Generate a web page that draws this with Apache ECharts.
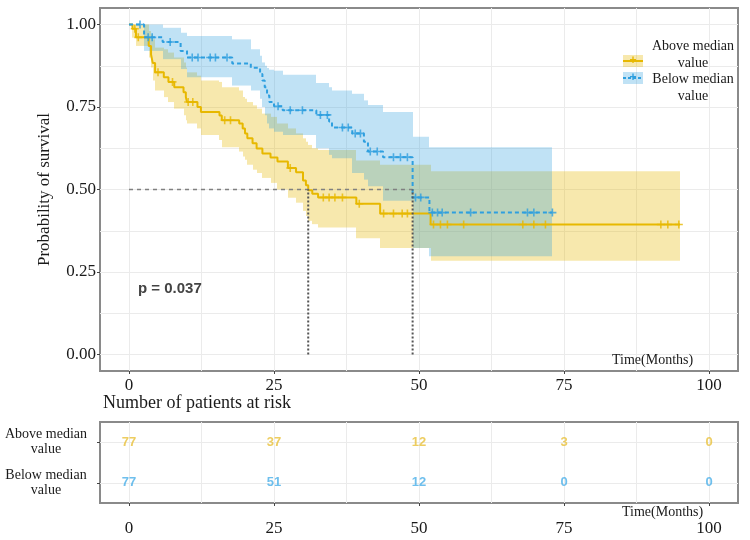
<!DOCTYPE html>
<html>
<head>
<meta charset="utf-8">
<script src="https://cdn.jsdelivr.net/npm/echarts@6/dist/echarts.min.js"></script>
<style>
  html, body { margin: 0; padding: 0; background: #fff; }
  #chart { width: 750px; height: 540px; }
</style>
</head>
<body>
<div id="chart"></div>
<script>
// ---- data ----
// Above median value (yellow, solid)
var aboveTime  = [0, 0.6, 1.2, 3.4, 3.8, 4.1, 4.5, 6.0, 6.8, 7.8, 9.4, 9.8, 10.0, 11.8, 12.4, 15.6, 16.0, 19.0, 19.6, 20.0, 20.4, 21.3, 22.0, 23.0, 24.4, 25.6, 27.4, 28.8, 30.0, 30.5, 30.9, 31.6, 32.6, 39.2, 43.3, 52.0];
var aboveSurv  = [1, 0.987, 0.961, 0.935, 0.909, 0.883, 0.855, 0.84, 0.826, 0.81, 0.795, 0.78, 0.765, 0.75, 0.735, 0.724, 0.71, 0.70, 0.685, 0.67, 0.655, 0.64, 0.624, 0.609, 0.597, 0.585, 0.565, 0.552, 0.527, 0.513, 0.498, 0.487, 0.476, 0.457, 0.427, 0.394];
var aboveUpper = [1, 1, 1, 0.98, 0.97, 0.955, 0.93, 0.925, 0.915, 0.90, 0.885, 0.87, 0.855, 0.845, 0.83, 0.826, 0.81, 0.80, 0.78, 0.775, 0.765, 0.755, 0.745, 0.73, 0.72, 0.70, 0.685, 0.67, 0.655, 0.645, 0.635, 0.625, 0.62, 0.588, 0.575, 0.555];
var aboveLower = [1, 0.96, 0.935, 0.90, 0.87, 0.83, 0.80, 0.78, 0.765, 0.745, 0.725, 0.71, 0.70, 0.685, 0.665, 0.65, 0.628, 0.615, 0.60, 0.59, 0.575, 0.56, 0.55, 0.535, 0.52, 0.50, 0.475, 0.46, 0.435, 0.42, 0.405, 0.395, 0.385, 0.352, 0.323, 0.284];
var aboveEnd = 95;
var aboveCensor = [1.0, 1.6, 5.0, 7.5, 10.2, 11.0, 16.5, 17.5, 27.8, 33.5, 34.5, 35.5, 36.8, 39.7, 43.9, 45.6, 47.1, 48.0, 52.5, 53.7, 54.9, 57.7, 67.9, 69.8, 71.8, 91.7, 92.9, 94.8];

// Below median value (blue, dashed)
var belowTime  = [0, 2.6, 5.8, 8.9, 10.0, 17.8, 21.0, 22.6, 23.0, 23.4, 23.8, 24.2, 25.0, 26.5, 32.3, 34.5, 35.0, 38.5, 40.5, 41.2, 43.8, 48.9, 51.8];
var belowSurv  = [1, 0.961, 0.947, 0.92, 0.90, 0.882, 0.869, 0.85, 0.83, 0.81, 0.785, 0.765, 0.752, 0.74, 0.726, 0.706, 0.688, 0.67, 0.645, 0.615, 0.598, 0.476, 0.43];
var belowUpper = [1, 1, 0.99, 0.975, 0.965, 0.955, 0.925, 0.905, 0.885, 0.875, 0.868, 0.863, 0.86, 0.848, 0.823, 0.81, 0.80, 0.79, 0.77, 0.756, 0.735, 0.66, 0.628];
var belowLower = [1, 0.92, 0.895, 0.865, 0.84, 0.815, 0.80, 0.775, 0.75, 0.725, 0.70, 0.685, 0.675, 0.665, 0.625, 0.605, 0.595, 0.55, 0.53, 0.51, 0.466, 0.323, 0.298];
var belowEnd = 73;
var belowCensor = [1.9, 3.3, 4.0, 7.1, 10.9, 11.9, 14.0, 14.9, 16.9, 25.7, 27.8, 29.9, 33.0, 34.2, 36.8, 37.8, 39.0, 39.9, 41.6, 42.8, 45.6, 46.8, 48.0, 49.4, 50.3, 52.3, 53.2, 54.0, 58.9, 68.7, 69.8, 73.0];

// median survival times (above, below)
var medians = [30.9, 48.9];

// number at risk
var riskTimes  = [0, 25, 50, 75, 100];
var riskAbove  = [77, 37, 12, 3, 0];
var riskBelow  = [77, 51, 12, 0, 0];
var riskGroups = ['Above median\nvalue', 'Below median\nvalue'];

// axes
var xTickVals = [0, 25, 50, 75, 100];
var xGridVals = [0, 12.5, 25, 37.5, 50, 62.5, 75, 87.5, 100];
var yTickVals = [0, 0.25, 0.5, 0.75, 1];
var yGridVals = [0, 0.125, 0.25, 0.375, 0.5, 0.625, 0.75, 0.875, 1];

var yellow = '#E7B800';
var blue = '#2E9FDF';
var serif = 'Liberation Serif';
var plusPath = 'path://M4,0H6V4H10V6H6V10H4V6H0V4H4Z';

function stepData(times, surv, end) {
    var d = [];
    for (var i = 0; i < times.length; i++) d.push([times[i], surv[i]]);
    d.push([end, surv[surv.length - 1]]);
    return d;
}
function bandData(times, lower, upper, end) {
    var d = [];
    for (var i = 0; i < times.length; i++) {
        var t1 = i < times.length - 1 ? times[i + 1] : end;
        d.push([times[i], t1, lower[i], upper[i]]);
    }
    return d;
}
function survAt(times, surv, t) {
    var s = surv[0];
    for (var i = 0; i < times.length; i++) { if (times[i] <= t) s = surv[i]; }
    return s;
}
function censorData(censor, times, surv) {
    return censor.map(function (t) { return [t, survAt(times, surv, t)]; });
}
function bandRender(fill) {
    return function (params, api) {
        var p0 = api.coord([api.value(0), api.value(3)]);
        var p1 = api.coord([api.value(1), api.value(2)]);
        var x0 = Math.round(p0[0]), x1 = Math.round(p1[0]);
        return {
            type: 'rect',
            shape: { x: x0, y: p0[1], width: x1 - x0, height: p1[1] - p0[1] },
            style: { fill: fill }
        };
    };
}

var xAxisBase = function (gridIndex, labelMargin) {
    return {
        type: 'value', gridIndex: gridIndex, min: -5, max: 105,
        axisLine: { show: false, onZero: false },
        axisTick: { show: false, customValues: xGridVals },
        splitLine: { show: true, lineStyle: { color: '#ebebeb', width: 1 } },
        axisLabel: {
            customValues: xTickVals, margin: labelMargin,
            fontFamily: serif, fontSize: 17, color: '#1a1a1a'
        }
    };
};
// tick-only axes (small marks at the major values, outside the panel)
var xTickAxis = function (gridIndex) {
    return {
        type: 'value', gridIndex: gridIndex, min: -5, max: 105, position: 'bottom',
        axisLine: { show: false, onZero: false }, splitLine: { show: false }, axisLabel: { show: false },
        axisTick: { show: true, length: 3, customValues: xTickVals, lineStyle: { color: '#444' } }
    };
};

var riskData = function (counts, row) {
    return riskTimes.map(function (t, i) { return [t, row, counts[i]]; });
};

var medianH = [[0, 0.5], [Math.max.apply(null, medians), 0.5]];

var chart = echarts.init(document.getElementById('chart'));
var option = {
    backgroundColor: '#fff',
    animation: false,
    grid: [
        { left: 100, right: 12, top: 8, height: 363, show: true, borderColor: '#8a8a8a', borderWidth: 2, backgroundColor: 'transparent', outerBoundsMode: 'none' },
        { left: 100, right: 12, top: 422, height: 81, show: true, borderColor: '#8a8a8a', borderWidth: 2, backgroundColor: 'transparent', outerBoundsMode: 'none' }
    ],
    xAxis: [xAxisBase(0, 6), xAxisBase(1, 17), xTickAxis(0), xTickAxis(1)],
    yAxis: [
        {
            type: 'value', gridIndex: 0, min: -0.05, max: 1.05,
            axisLine: { show: false, onZero: false },
            axisTick: { show: false, customValues: yGridVals },
            splitLine: { show: true, lineStyle: { color: '#ebebeb', width: 1 } },
            axisLabel: {
                customValues: yTickVals, margin: 4,
                fontFamily: serif, fontSize: 17, color: '#1a1a1a',
                formatter: function (v) { return v.toFixed(2); }
            },
            name: 'Probability of survival', nameLocation: 'middle', nameGap: 47,
            nameTextStyle: { fontFamily: serif, fontSize: 17, color: '#1a1a1a' }
        },
        {
            type: 'value', gridIndex: 1, min: -0.5, max: 1.5, inverse: true,
            axisLine: { show: false, onZero: false },
            axisTick: { show: true, length: 3, customValues: [0, 1], lineStyle: { color: '#444' } },
            splitLine: { show: true, lineStyle: { color: '#ebebeb', width: 1 } },
            axisLabel: {
                customValues: [0, 1], margin: 12,
                formatter: function (v) {
                    return riskGroups[v].split('\n').map(function (s) { return '{a|' + s + '}'; }).join('\n');
                },
                rich: { a: { fontFamily: serif, fontSize: 14, color: '#1a1a1a', width: 84, align: 'center', lineHeight: 15 } }
            }
        },
        {
            type: 'value', gridIndex: 0, min: -0.05, max: 1.05, position: 'left',
            axisLine: { show: false, onZero: false }, splitLine: { show: false }, axisLabel: { show: false },
            axisTick: { show: true, length: 3, customValues: yTickVals, lineStyle: { color: '#444' } }
        }
    ],
    series: [
        { type: 'custom', name: 'aboveBand', xAxisIndex: 0, yAxisIndex: 0, z: 1,
          renderItem: bandRender('rgba(231,184,0,0.32)'), encode: { x: [0, 1], y: [2, 3] },
          data: bandData(aboveTime, aboveLower, aboveUpper, aboveEnd) },
        { type: 'custom', name: 'belowBand', xAxisIndex: 0, yAxisIndex: 0, z: 1,
          renderItem: bandRender('rgba(46,159,223,0.30)'), encode: { x: [0, 1], y: [2, 3] },
          data: bandData(belowTime, belowLower, belowUpper, belowEnd) },
        { type: 'line', name: 'Above median value', xAxisIndex: 0, yAxisIndex: 0, z: 3,
          step: 'end', symbol: 'none', lineStyle: { color: yellow, width: 2 },
          data: stepData(aboveTime, aboveSurv, aboveEnd) },
        { type: 'line', name: 'Below median value', xAxisIndex: 0, yAxisIndex: 0, z: 3,
          step: 'end', symbol: 'none', lineStyle: { color: blue, width: 2, type: [4, 3] },
          data: stepData(belowTime, belowSurv, belowEnd) },
        { type: 'scatter', name: 'aboveCensor', xAxisIndex: 0, yAxisIndex: 0, z: 4,
          symbol: plusPath, symbolSize: 8, itemStyle: { color: yellow },
          data: censorData(aboveCensor, aboveTime, aboveSurv) },
        { type: 'scatter', name: 'belowCensor', xAxisIndex: 0, yAxisIndex: 0, z: 4,
          symbol: plusPath, symbolSize: 8, itemStyle: { color: blue },
          data: censorData(belowCensor, belowTime, belowSurv) },
        { type: 'line', name: 'medianH', xAxisIndex: 0, yAxisIndex: 0, z: 5, symbol: 'none',
          lineStyle: { color: '#808080', width: 1.5, type: [4, 4] }, data: medianH },
        { type: 'line', name: 'medianV1', xAxisIndex: 0, yAxisIndex: 0, z: 5, symbol: 'none',
          lineStyle: { color: '#555', width: 2, type: [2, 2] }, data: [[medians[0], 0], [medians[0], 0.5]] },
        { type: 'line', name: 'medianV2', xAxisIndex: 0, yAxisIndex: 0, z: 5, symbol: 'none',
          lineStyle: { color: '#555', width: 2, type: [2, 2] }, data: [[medians[1], 0], [medians[1], 0.5]] },
        { type: 'scatter', name: 'riskAbove', xAxisIndex: 1, yAxisIndex: 1, symbolSize: 0,
          label: { show: true, position: 'inside', color: '#E9C03A', fontFamily: 'Liberation Sans', fontSize: 13, fontWeight: 'bold',
                   formatter: function (p) { return p.value[2]; } },
          data: riskData(riskAbove, 0) },
        { type: 'scatter', name: 'riskBelow', xAxisIndex: 1, yAxisIndex: 1, symbolSize: 0,
          label: { show: true, position: 'inside', color: '#4AAFE8', fontFamily: 'Liberation Sans', fontSize: 13, fontWeight: 'bold',
                   formatter: function (p) { return p.value[2]; } },
          data: riskData(riskBelow, 1) }
    ],
    graphic: [
        { type: 'text', left: 138, top: 281, z: 10,
          style: { text: 'p = 0.037', font: 'bold 15px "Liberation Sans"', fill: '#444' } },
        { type: 'text', left: 612, top: 353, z: 10,
          style: { text: 'Time(Months)', font: '14px "Liberation Serif"', fill: '#1a1a1a' } },
        { type: 'text', left: 103, top: 394, z: 10,
          style: { text: 'Number of patients at risk', font: '18px "Liberation Serif"', fill: '#1a1a1a' } },
        { type: 'text', left: 622, top: 505, z: 10,
          style: { text: 'Time(Months)', font: '14px "Liberation Serif"', fill: '#1a1a1a' } },
        // legend
        { type: 'rect', z: 10, shape: { x: 623, y: 55, width: 20, height: 12 }, style: { fill: 'rgba(231,184,0,0.32)' } },
        { type: 'line', z: 11, shape: { x1: 623, y1: 61, x2: 643, y2: 61 }, style: { stroke: yellow, lineWidth: 2 } },
        { type: 'text', z: 11, x: 633, y: 61, style: { text: '+', font: 'bold 12px "Liberation Sans"', fill: yellow, align: 'center', verticalAlign: 'middle' } },
        { type: 'rect', z: 10, shape: { x: 623, y: 72, width: 20, height: 12 }, style: { fill: 'rgba(46,159,223,0.30)' } },
        { type: 'line', z: 11, shape: { x1: 623, y1: 78, x2: 643, y2: 78 }, style: { stroke: blue, lineWidth: 2, lineDash: [3, 2] } },
        { type: 'text', z: 11, x: 633, y: 78, style: { text: '+', font: 'bold 12px "Liberation Sans"', fill: blue, align: 'center', verticalAlign: 'middle' } },
        { type: 'text', z: 11, x: 693, y: 55, style: { text: 'Above median\nvalue', font: '14px "Liberation Serif"', lineHeight: 16.5, fill: '#1a1a1a', align: 'center', verticalAlign: 'middle' } },
        { type: 'text', z: 11, x: 693, y: 88, style: { text: 'Below median\nvalue', font: '14px "Liberation Serif"', lineHeight: 16.5, fill: '#1a1a1a', align: 'center', verticalAlign: 'middle' } }
    ]
};
chart.setOption(option);
</script>
</body>
</html>
